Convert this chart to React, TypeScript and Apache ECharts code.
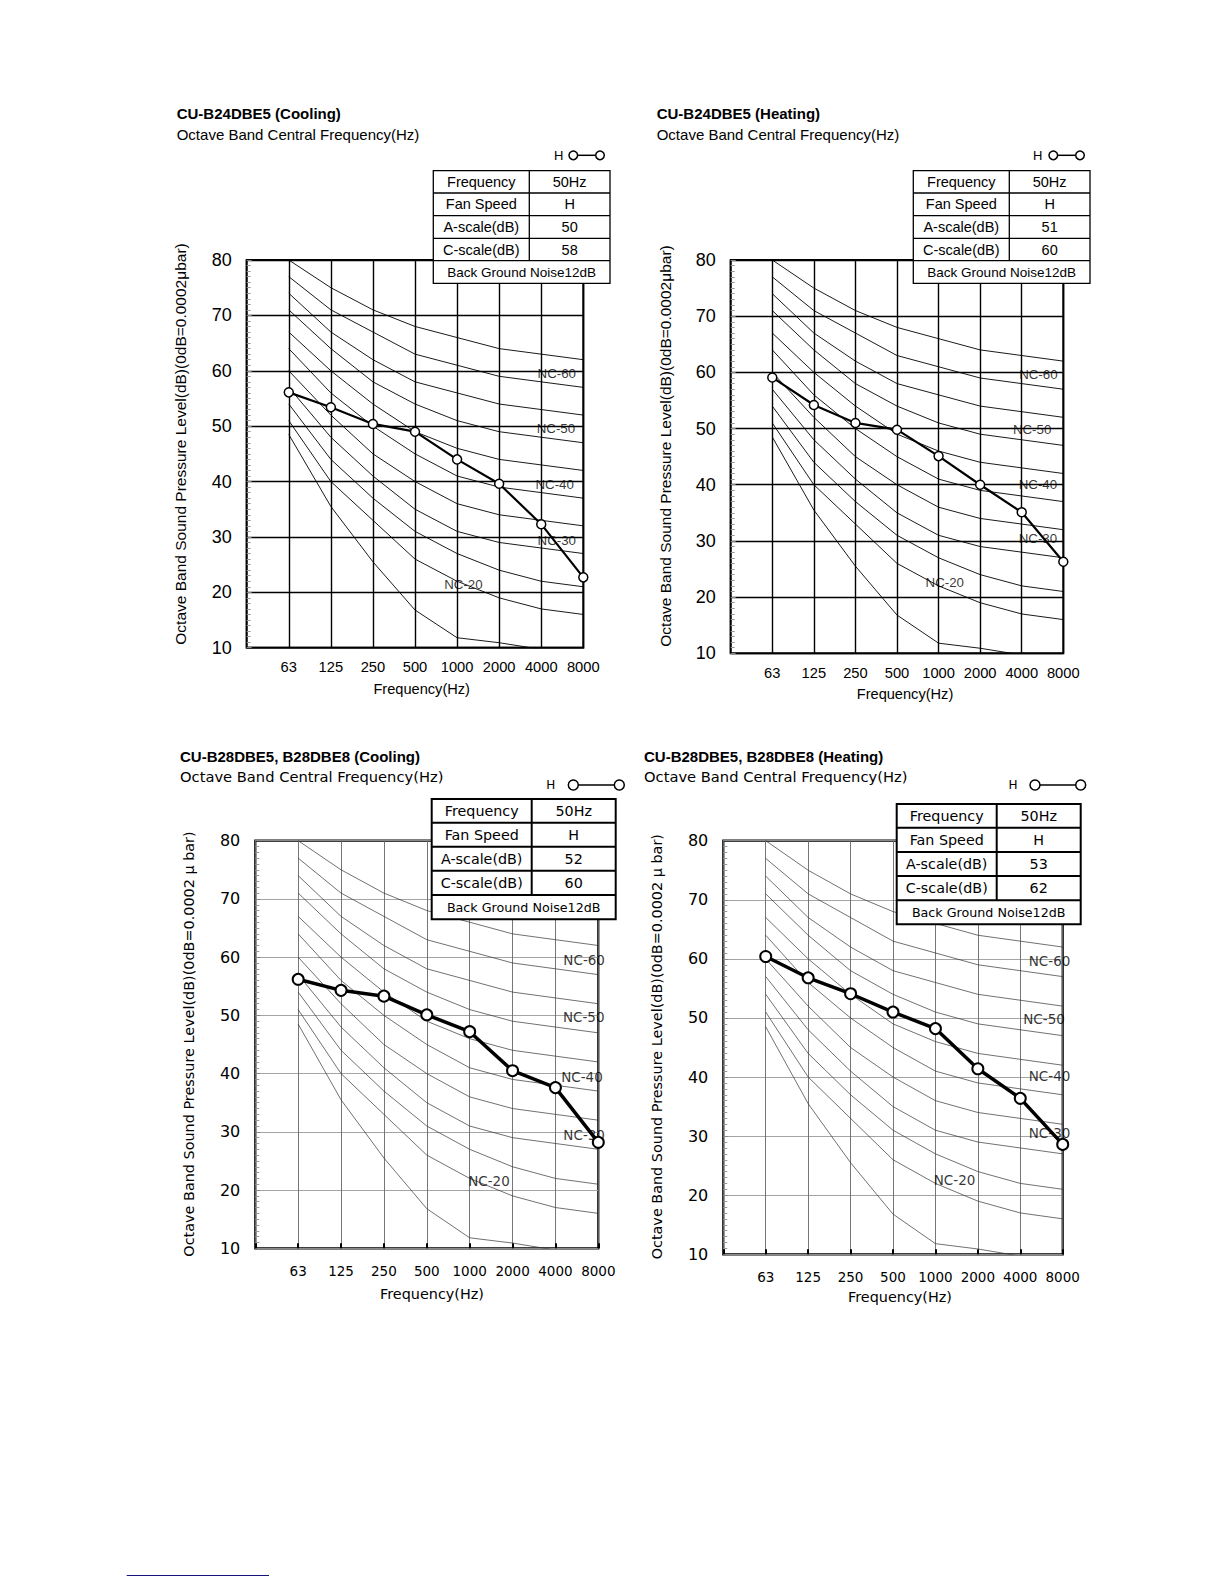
import React, { useEffect, useRef } from 'react';
import * as echarts from 'echarts';

// ---------------- DATA ----------------
const FREQS = ['63', '125', '250', '500', '1000', '2000', '4000', '8000'];

// NC reference curves (63 ... 8000 Hz)
const NC_LOWEST = [48.5, 35.5, 25.5, 16.8, 11.8, 10.9, 9.7, 9.0];
const NC20 = [51, 40, 33, 26, 22, 19, 17, 16];
const NC25 = [54, 44, 37, 31, 27, 24, 22, 21];
const NC30 = [57, 48, 41, 35, 31, 29, 28, 27];
const NC35 = [60, 52, 45, 40, 36, 34, 33, 32];
const NC40 = [64, 56, 50, 45, 41, 39, 38, 37];
const NC45 = [67, 60, 54, 49, 46, 44, 43, 42];
const NC50 = [71, 64, 58, 54, 51, 49, 48, 47];
const NC55 = [74, 67, 62, 58, 56, 54, 53, 52];
const NC60 = [77, 71, 67, 63, 61, 59, 58, 57];
const NC65 = [80, 75, 71, 68, 66, 64, 63, 62];
const NC_CURVES = [NC_LOWEST, NC20, NC25, NC30, NC35, NC40, NC45, NC50, NC55, NC60, NC65];

// Measured sound pressure level, fan speed H
const B24_COOLING = [56.1, 53.4, 50.4, 49.0, 44.0, 39.6, 32.3, 22.7];
const B24_HEATING = [59.1, 54.2, 51.0, 49.8, 45.1, 40.0, 35.1, 26.3];
const B28_COOLING = [56.2, 54.3, 53.3, 50.1, 47.2, 40.5, 37.6, 28.2];
const B28_HEATING = [60.4, 56.8, 54.1, 51.0, 48.2, 41.4, 36.4, 28.6];

const TITLES = [
  'CU-B24DBE5 (Cooling)',
  'CU-B24DBE5 (Heating)',
  'CU-B28DBE5, B28DBE8 (Cooling)',
  'CU-B28DBE5, B28DBE8 (Heating)',
];
const SUBTITLE = 'Octave Band Central Frequency(Hz)';
const X_NAME = 'Frequency(Hz)';
const Y_NAME_TOP = 'Octave Band Sound Pressure Level(dB)(0dB=0.0002\u03bcbar)';
const Y_NAME_BOTTOM = 'Octave Band Sound Pressure Level(dB)(0dB=0.0002 \u03bc bar)';
const LEGEND_LABEL = 'H';

const TABLE_LABELS = ['Frequency', 'Fan Speed', 'A-scale(dB)', 'C-scale(dB)'];
const TABLE_B24_COOLING = ['50Hz', 'H', '50', '58'];
const TABLE_B24_HEATING = ['50Hz', 'H', '51', '60'];
const TABLE_B28_COOLING = ['50Hz', 'H', '52', '60'];
const TABLE_B28_HEATING = ['50Hz', 'H', '53', '62'];
const BACKGROUND_NOISE = 'Back Ground Noise12dB';

const NC_NAMES = ['NC-60', 'NC-50', 'NC-40', 'NC-30', 'NC-20'];
// label anchor [x index, dB] per panel
const NC_LABEL_POS_1 = [[7.37, 59.5], [7.35, 49.6], [7.32, 39.5], [7.37, 29.4], [5.15, 21.5]];
const NC_LABEL_POS_2 = [[7.4, 59.7], [7.25, 49.75], [7.39, 40.1], [7.39, 30.5], [5.15, 22.6]];
const NC_LABEL_POS_3 = [[7.67, 59.5], [7.66, 49.7], [7.62, 39.5], [7.67, 29.5], [5.45, 21.6]];
const NC_LABEL_POS_4 = [[7.69, 59.7], [7.56, 49.8], [7.69, 40.1], [7.69, 30.5], [5.45, 22.5]];

// ---------------- LAYOUT / STYLE ----------------
const TOP_FONT = '"Liberation Sans", Arial, sans-serif';
const BOT_FONT = '"DejaVu Sans", sans-serif';

const STYLE_TOP = {
  font: TOP_FONT, yLabel: 18, xLabel: 14.7, xMargin: 12, sub: 15, table: 14.5, bgn: 13.5,
  yName: 15.5, xName: 14.6, nc: 13.3, h: 13,
  hSplit: '#000', vSplit: '#000', splitW: 1.4, border: 2, ncColor: '#000', ncW: 0.9,
  dataW: 2.2, sym: 9, symBorder: 1.5, xTick: false, tableLW: 1.3,
};
const STYLE_BOT = {
  font: BOT_FONT, yLabel: 16, xLabel: 13.5, xMargin: 15.5, sub: 14.7, table: 14.3, bgn: 12.7,
  yName: 14.4, xName: 14.4, nc: 13.5, h: 12,
  hSplit: '#9a9a9a', vSplit: '#666', splitW: 0.9, border: 2.2, ncColor: '#333', ncW: 0.7,
  dataW: 3.5, sym: 11, symBorder: 2, xTick: true, tableLW: 2,
};

const PANELS = [
  {
    title: TITLES[0], data: B24_COOLING, tbl: TABLE_B24_COOLING, ncPos: NC_LABEL_POS_1, yName: Y_NAME_TOP, st: STYLE_TOP,
    grid: { left: 246.7, top: 260, width: 336.6, height: 387.7 },
    tx: 176.7, ty: 113.3, sy: 134,
    lg: { hx: 558.8, c1: 573.3, c2: 600, y: 155.3, r: 4.3 },
    tb: { x0: 433.3, x1: 610, xc: 529.3, rows: [170.7, 193, 215.7, 238.3, 260.7, 283.3] },
    yn: { x: 180, y: 444 }, xn: { x: 421.7, y: 689.3 },
  },
  {
    title: TITLES[1], data: B24_HEATING, tbl: TABLE_B24_HEATING, ncPos: NC_LABEL_POS_2, yName: Y_NAME_TOP, st: STYLE_TOP,
    grid: { left: 730.7, top: 260, width: 332.6, height: 393.3 },
    tx: 656.7, ty: 113.3, sy: 134,
    lg: { hx: 1037.8, c1: 1053.3, c2: 1080, y: 155.3, r: 4.3 },
    tb: { x0: 913.3, x1: 1090, xc: 1009.3, rows: [170.7, 193, 215.7, 238.3, 260.7, 283.3] },
    yn: { x: 665, y: 446 }, xn: { x: 905, y: 694 },
  },
  {
    title: TITLES[2], data: B28_COOLING, tbl: TABLE_B28_COOLING, ncPos: NC_LABEL_POS_3, yName: Y_NAME_BOTTOM, st: STYLE_BOT,
    grid: { left: 255.3, top: 840.7, width: 343, height: 407.6 },
    tx: 180, ty: 756.7, sy: 776.7,
    lg: { hx: 550.8, c1: 573.3, c2: 619.3, y: 785, r: 5 },
    tb: { x0: 431.7, x1: 615.7, xc: 531.7, rows: [799, 822.7, 846.7, 870.7, 895, 919.3] },
    yn: { x: 189, y: 1044 }, xn: { x: 432, y: 1293.5 },
  },
  {
    title: TITLES[3], data: B28_HEATING, tbl: TABLE_B28_HEATING, ncPos: NC_LABEL_POS_4, yName: Y_NAME_BOTTOM, st: STYLE_BOT,
    grid: { left: 723.3, top: 840.7, width: 339.4, height: 413.6 },
    tx: 644, ty: 756.7, sy: 776.7,
    lg: { hx: 1013, c1: 1035, c2: 1080.7, y: 785, r: 5 },
    tb: { x0: 896.7, x1: 1080.7, xc: 996.7, rows: [804, 827.7, 852, 876, 900.3, 924.3] },
    yn: { x: 657, y: 1046.7 }, xn: { x: 900, y: 1297 },
  },
];

function txt(text: string, x: number, y: number, size: number, family: string, opts: any = {}) {
  return {
    type: 'text', x, y, z: 100, rotation: opts.rotation || 0,
    style: {
      text, fill: '#000', fontSize: size, fontFamily: family, fontWeight: opts.weight || 'normal',
      align: opts.align || 'center', verticalAlign: 'middle',
    },
  };
}

function buildOption() {
  const grid: any[] = [];
  const xAxis: any[] = [];
  const yAxis: any[] = [];
  const series: any[] = [];
  const graphic: any[] = [];

  PANELS.forEach((p, i) => {
    const st = p.st;
    grid.push({ ...p.grid, show: true, borderColor: '#000', borderWidth: st.border, backgroundColor: 'transparent' });
    xAxis.push({
      gridIndex: i, type: 'value', min: 0, max: 8, interval: 1,
      axisLine: { show: false },
      axisTick: st.xTick ? { show: true, inside: true, length: 5, lineStyle: { color: '#000', width: 2 } } : { show: false },
      axisLabel: {
        color: '#000', fontSize: st.xLabel, fontFamily: st.font, margin: st.xMargin,
        formatter: (v: number) => (v >= 1 && v <= 8 ? FREQS[v - 1] : ''),
      },
      splitLine: { show: true, lineStyle: { color: st.vSplit, width: st.splitW } },
    });
    yAxis.push({
      gridIndex: i, type: 'value', min: 10, max: 80, interval: 10,
      axisLine: { show: false },
      axisTick: { show: true, inside: true, length: 5, lineStyle: { color: '#888', width: 1 } },
      minorTick: { show: true, splitNumber: 10, length: 4, lineStyle: { color: '#999', width: 1 } },
      axisLabel: { color: '#000', fontSize: st.yLabel, fontFamily: st.font, margin: 15 },
      splitLine: { show: true, lineStyle: { color: st.hSplit, width: st.splitW } },
    });

    NC_CURVES.forEach((c) => {
      series.push({
        type: 'line', xAxisIndex: i, yAxisIndex: i, silent: true, symbol: 'none', z: 2,
        lineStyle: { color: st.ncColor, width: st.ncW },
        data: c.map((v, k) => [k + 1, v]),
      });
    });
    series.push({
      type: 'scatter', xAxisIndex: i, yAxisIndex: i, silent: true, symbolSize: 0, z: 3,
      data: NC_NAMES.map((n, k) => ({ name: n, value: p.ncPos[k] })),
      label: { show: true, position: 'inside', formatter: '{b}', color: '#000', fontSize: st.nc, fontFamily: st.font },
    });
    series.push({
      type: 'line', xAxisIndex: i, yAxisIndex: i, z: 5,
      symbol: 'circle', symbolSize: st.sym,
      itemStyle: { color: '#fff', borderColor: '#000', borderWidth: st.symBorder },
      lineStyle: { color: '#000', width: st.dataW },
      data: p.data.map((v, k) => [k + 1, v]),
    });

    // titles
    graphic.push(txt(p.title, p.tx, p.ty, 15, TOP_FONT, { weight: 'bold', align: 'left' }));
    graphic.push(txt(SUBTITLE, p.tx, p.sy, st.sub, st.font, { align: 'left' }));
    // axis names
    graphic.push(txt(p.yName, p.yn.x, p.yn.y, st.yName, st.font, { rotation: Math.PI / 2 }));
    graphic.push(txt(X_NAME, p.xn.x, p.xn.y, st.xName, st.font));
    // legend
    const lg = p.lg;
    graphic.push(txt(LEGEND_LABEL, lg.hx, lg.y, st.h, st.font));
    graphic.push({ type: 'line', z: 100, shape: { x1: lg.c1, y1: lg.y, x2: lg.c2, y2: lg.y }, style: { stroke: '#000', lineWidth: 1.5 } });
    [lg.c1, lg.c2].forEach((cx) => {
      graphic.push({ type: 'circle', z: 101, shape: { cx, cy: lg.y, r: lg.r }, style: { fill: '#fff', stroke: '#000', lineWidth: 1.5 } });
    });
    // table
    const tb = p.tb;
    const r = tb.rows;
    graphic.push({
      type: 'rect', z: 100, shape: { x: tb.x0, y: r[0], width: tb.x1 - tb.x0, height: r[5] - r[0] },
      style: { fill: '#fff', stroke: '#000', lineWidth: st.tableLW },
    });
    for (let k = 1; k <= 4; k++) {
      graphic.push({ type: 'line', z: 101, shape: { x1: tb.x0, y1: r[k], x2: tb.x1, y2: r[k] }, style: { stroke: '#000', lineWidth: st.tableLW } });
    }
    graphic.push({ type: 'line', z: 101, shape: { x1: tb.xc, y1: r[0], x2: tb.xc, y2: r[4] }, style: { stroke: '#000', lineWidth: st.tableLW } });
    for (let k = 0; k < 4; k++) {
      const cy = (r[k] + r[k + 1]) / 2;
      graphic.push(txt(TABLE_LABELS[k], (tb.x0 + tb.xc) / 2, cy, st.table, st.font));
      graphic.push(txt(p.tbl[k], (tb.xc + tb.x1) / 2, cy, st.table, st.font));
    }
    graphic.push(txt(BACKGROUND_NOISE, (tb.x0 + tb.x1) / 2, (r[4] + r[5]) / 2, st.bgn, st.font));
  });

  // footer rule
  graphic.push({ type: 'line', z: 100, shape: { x1: 126.7, y1: 1575.5, x2: 269, y2: 1575.5 }, style: { stroke: '#16167a', lineWidth: 1.2 } });

  return { animation: false, backgroundColor: '#fff', grid, xAxis, yAxis, series, graphic };
}

export default function App() {
  const ref = useRef<HTMLDivElement>(null);
  useEffect(() => {
    const chart = echarts.init(ref.current as HTMLDivElement, null, { renderer: 'svg' });
    chart.setOption(buildOption() as any);
    return () => chart.dispose();
  }, []);
  return (
    <div
      ref={ref}
      style={{ position: 'absolute', left: 0, top: 0, width: 1224, height: 1584, background: '#fff' }}
    />
  );
}
